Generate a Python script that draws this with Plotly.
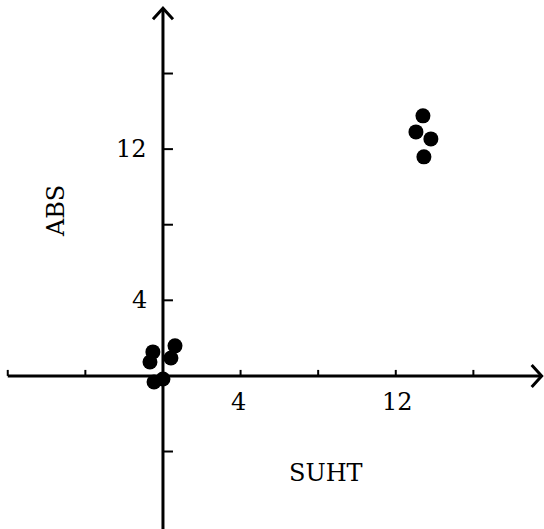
import plotly.graph_objects as go

# Observations: SUHT (x) against ABS (y)
suht = [13.40, 13.04, 13.81, 13.45, -0.52, -0.67, 0.62, 0.41, -0.46, 0.00]
abs_vals = [13.76, 12.91, 12.54, 11.59, 1.27, 0.74, 1.59, 0.95, -0.32, -0.16]

# Axis ticks and the values written beside them
x_ticks = [-8, -4, 4, 8, 12, 16]
y_ticks = [-4, 4, 8, 12, 16]
x_labels = [4, 12]
y_labels = [4, 12]

X_RANGE = [-8.40, 19.64]
Y_RANGE = [-8.10, 19.89]
X_END = -8.0      # left end of the horizontal axis line
X_TIP = 19.52     # arrow tip on the horizontal axis
Y_TIP = 19.45     # arrow tip on the vertical axis

FONT = "DejaVu Serif, serif"
FSIZE = 24
AXIS_W = 3

fig = go.Figure()

fig.add_trace(go.Scatter(
    x=suht, y=abs_vals, mode="markers",
    marker=dict(size=15, color="black", line=dict(width=0)),
    showlegend=False, hoverinfo="skip",
))

shapes = []
# axis lines crossing at the origin
shapes.append(dict(type="line", xref="x", yref="y", x0=X_END, x1=X_TIP, y0=0, y1=0,
                   line=dict(color="black", width=AXIS_W)))
shapes.append(dict(type="line", xref="x", yref="y", x0=0, x1=0, y0=Y_RANGE[0] - 1, y1=Y_TIP,
                   line=dict(color="black", width=AXIS_W)))

# short ticks: upward on the x axis, rightward on the y axis
for t in x_ticks:
    shapes.append(dict(type="line", xref="x", yref="y", xsizemode="pixel", ysizemode="pixel",
                       xanchor=t, yanchor=0, x0=0, x1=0, y0=0, y1=6,
                       line=dict(color="black", width=2)))
for t in y_ticks:
    shapes.append(dict(type="line", xref="x", yref="y", xsizemode="pixel", ysizemode="pixel",
                       xanchor=0, yanchor=t, x0=0, x1=10, y0=0, y1=0,
                       line=dict(color="black", width=2)))

# open arrowheads at the positive ends
shapes.append(dict(type="path", xref="x", yref="y", xsizemode="pixel", ysizemode="pixel",
                   xanchor=X_TIP, yanchor=0, path="M -10,11 L 0,0 L -10,-11",
                   line=dict(color="black", width=AXIS_W)))
shapes.append(dict(type="path", xref="x", yref="y", xsizemode="pixel", ysizemode="pixel",
                   xanchor=0, yanchor=Y_TIP, path="M -10,-11 L 0,0 L 10,-11",
                   line=dict(color="black", width=AXIS_W)))

annotations = []
for v in x_labels:
    annotations.append(dict(x=v, y=0, xref="x", yref="y", text=str(v), showarrow=False,
                            xanchor="center", yanchor="middle", yshift=-26,
                            xshift=2 if v > 9 else -2,
                            font=dict(family=FONT, size=FSIZE, color="black")))
for v in y_labels:
    annotations.append(dict(x=0, y=v, xref="x", yref="y", text=str(v), showarrow=False,
                            xanchor="right", yanchor="middle", xshift=-14,
                            font=dict(family=FONT, size=FSIZE, color="black")))

annotations.append(dict(x=0.599, y=0.106, xref="paper", yref="paper", text="SUHT",
                        showarrow=False, xanchor="center", yanchor="middle",
                        font=dict(family=FONT, size=FSIZE, color="black")))
annotations.append(dict(x=0.103, y=0.601, xref="paper", yref="paper", text="ABS",
                        showarrow=False, xanchor="center", yanchor="middle", textangle=-90,
                        font=dict(family=FONT, size=FSIZE, color="black")))

fig.update_layout(
    width=544, height=529,
    margin=dict(l=0, r=0, t=0, b=0),
    paper_bgcolor="white", plot_bgcolor="white",
    xaxis=dict(range=X_RANGE, visible=False, fixedrange=True),
    yaxis=dict(range=Y_RANGE, visible=False, fixedrange=True),
    shapes=shapes, annotations=annotations,
)

fig.write_html("out.html")
